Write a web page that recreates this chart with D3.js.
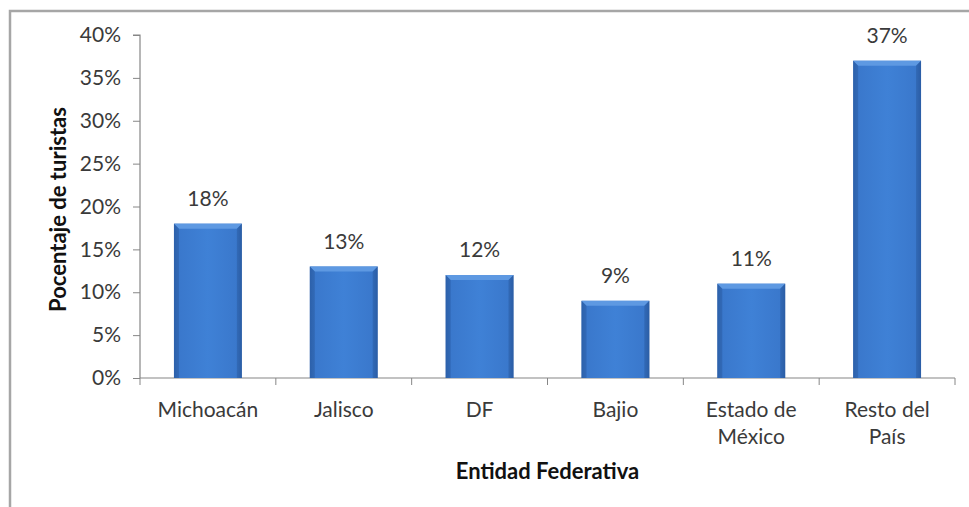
<!DOCTYPE html>
<html><head><meta charset="utf-8">
<script src="https://cdn.jsdelivr.net/npm/d3@7/dist/d3.min.js"></script>
<style>body{margin:0;background:#fff;} text{font-family:"Lato","Open Sans",sans-serif;}</style>
</head><body>
<svg id="chart" width="969" height="507"></svg>
<script>
const categories = [["Michoacán"],["Jalisco"],["DF"],["Bajio"],["Estado de","México"],["Resto del","País"]];
const values = [18, 13, 12, 9, 11, 37];
const yTicks = [0,5,10,15,20,25,30,35,40];
const yTitle = "Pocentaje de turistas";
const xTitle = "Entidad Federativa";

(function(){
const svg = d3.select("#chart");
svg.append("rect").attr("x",10).attr("y",11).attr("width",980).attr("height",520)
  .attr("fill","#fff").attr("stroke","#a6a6a6").attr("stroke-width",2.5);

const pL = 140, pR = 955, pT = 35, pB = 378;
const FS = 21, TFS = 22;
const x = d3.scaleBand().domain(d3.range(categories.length)).range([pL,pR]).paddingInner(0.5).paddingOuter(0.25);
const xb = d3.scaleBand().domain(d3.range(categories.length)).range([pL,pR]);
const y = d3.scaleLinear().domain([0,40]).range([pB,pT]);

const defs = svg.append("defs");
const g = defs.append("linearGradient").attr("id","barg").attr("x1",0).attr("x2",1).attr("y1",0).attr("y2",0);
g.append("stop").attr("offset",0).attr("stop-color","#2f66b4");
g.append("stop").attr("offset",0.08).attr("stop-color","#3a78cc");
g.append("stop").attr("offset",0.5).attr("stop-color","#3f81d6");
g.append("stop").attr("offset",0.92).attr("stop-color","#3a78cc");
g.append("stop").attr("offset",1).attr("stop-color","#2c60ab");

const yAxis = d3.axisLeft(y).tickValues(yTicks).tickSize(7).tickFormat(d=>d+"%");
const ya = svg.append("g").attr("transform",`translate(${pL},0)`).call(yAxis);
ya.select(".domain").attr("stroke","#868686").attr("stroke-width",1.2).attr("d",`M-7,${pT}H0V${pB}`);
ya.selectAll(".tick line").attr("stroke","#868686");
ya.selectAll(".tick text").attr("font-size",FS).attr("fill","#3a3a3a").attr("x",-19).attr("font-family","Lato");

const xAxisG = svg.append("g").attr("transform",`translate(0,${pB})`);
xAxisG.append("line").attr("x1",pL).attr("x2",pR).attr("stroke","#868686").attr("stroke-width",1.2);
const bounds = d3.range(categories.length+1).map(i=> i<categories.length ? xb(i) : xb(i-1)+xb.bandwidth());
xAxisG.selectAll("line.tk").data(bounds).join("line").attr("class","tk")
  .attr("x1",d=>d).attr("x2",d=>d).attr("y1",0).attr("y2",7).attr("stroke","#868686");

const lab = xAxisG.selectAll("text.cat").data(categories).join("text").attr("class","cat")
  .attr("text-anchor","middle").attr("font-size",FS).attr("fill","#3a3a3a")
  .attr("x",(d,i)=>xb(i)+xb.bandwidth()/2);
lab.selectAll("tspan").data(d=>d).join("tspan")
  .attr("x",function(){return this.parentNode.getAttribute("x");})
  .attr("y",(d,i)=>39+i*27).text(d=>d);

const bars = svg.append("g").selectAll("g").data(values).join("g");
bars.append("rect").attr("x",(d,i)=>x(i)).attr("width",x.bandwidth())
  .attr("y",d=>y(d)).attr("height",d=>pB-y(d)).attr("fill","url(#barg)");
const bev = 5;
bars.append("path").attr("fill","#5e99e2")
  .attr("d",(d,i)=>{const x0=x(i),x1=x(i)+x.bandwidth(),yt=y(d);
    return `M${x0},${yt}H${x1}L${x1-bev},${yt+bev}H${x0+bev}Z`;});
bars.append("path").attr("fill","#2a5a9f").attr("opacity",0.45)
  .attr("d",(d,i)=>{const x0=x(i),x1=x(i)+x.bandwidth(),yt=y(d);
    return `M${x0},${yt}L${x0+bev},${yt+bev}V${pB}H${x0}Z M${x1},${yt}L${x1-bev},${yt+bev}V${pB}H${x1}Z`;});
bars.append("text").attr("text-anchor","middle").attr("font-size",FS).attr("fill","#3a3a3a")
  .attr("x",(d,i)=>x(i)+x.bandwidth()/2).attr("y",d=>y(d)-18).text(d=>d+"%");

svg.append("text").attr("transform",`translate(66,${(pT+pB)/2+3}) rotate(-90)`)
  .attr("text-anchor","middle").attr("font-size",TFS).attr("font-weight","bold").attr("fill","#111").text(yTitle);
svg.append("text").attr("x",(pL+pR)/2).attr("y",479).attr("text-anchor","middle")
  .attr("font-size",TFS).attr("font-weight","bold").attr("fill","#111").text(xTitle);
})();
</script>
</body></html>
